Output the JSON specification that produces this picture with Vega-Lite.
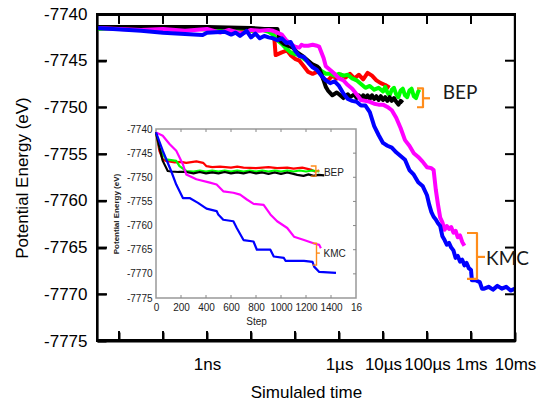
{
  "$schema": "https://vega.github.io/schema/vega-lite/v6.json",
  "width": 418,
  "height": 327,
  "autosize": "none",
  "padding": {"left": 97, "top": 14, "right": 28, "bottom": 60},
  "background": "white",
  "config": {"view": {"stroke": "black", "strokeWidth": 2}},
  "datasets": {
    "main": [
      {"series":"BEP-1","t":3.162e-12,"E":-7741.5},{"series":"BEP-1","t":1e-10,"E":-7741.5},{"series":"BEP-1","t":2.512e-10,"E":-7741.4},{"series":"BEP-1","t":1.122e-9,"E":-7741.4},{"series":"BEP-1","t":1.259e-9,"E":-7741.8},{"series":"BEP-1","t":1e-8,"E":-7741.8},{"series":"BEP-1","t":1.778e-8,"E":-7741.7},{"series":"BEP-1","t":3.162e-8,"E":-7741.9},{"series":"BEP-1","t":3.39e-8,"E":-7742.6},{"series":"BEP-1","t":3.63e-8,"E":-7744.4},{"series":"BEP-1","t":5.012e-8,"E":-7744.1},{"series":"BEP-1","t":6.607e-8,"E":-7743.9},{"series":"BEP-1","t":7.943e-8,"E":-7744.4},{"series":"BEP-1","t":1e-7,"E":-7744.8},{"series":"BEP-1","t":1.259e-7,"E":-7745.0},{"series":"BEP-1","t":1.585e-7,"E":-7745.6},{"series":"BEP-1","t":1.995e-7,"E":-7746.2},{"series":"BEP-1","t":2.512e-7,"E":-7746.4},{"series":"BEP-1","t":3.162e-7,"E":-7746.2},{"series":"BEP-1","t":3.802e-7,"E":-7746.3},{"series":"BEP-1","t":4.467e-7,"E":-7747.0},{"series":"BEP-1","t":5.623e-7,"E":-7747.1},{"series":"BEP-1","t":7.079e-7,"E":-7746.6},{"series":"BEP-1","t":8.913e-7,"E":-7746.9},{"series":"BEP-1","t":1.122e-6,"E":-7746.5},{"series":"BEP-1","t":1.413e-6,"E":-7746.8},{"series":"BEP-1","t":1.778e-6,"E":-7746.4},{"series":"BEP-1","t":2.239e-6,"E":-7746.9},{"series":"BEP-1","t":2.818e-6,"E":-7746.5},{"series":"BEP-1","t":3.548e-6,"E":-7747.0},{"series":"BEP-1","t":4.467e-6,"E":-7746.3},{"series":"BEP-1","t":5.623e-6,"E":-7746.6},{"series":"BEP-1","t":7.079e-6,"E":-7747.1},{"series":"BEP-1","t":8.913e-6,"E":-7747.4},{"series":"BEP-1","t":1.122e-5,"E":-7747.6},{"series":"BEP-1","t":1.413e-5,"E":-7747.9},
      {"series":"BEP-2","t":3.162e-12,"E":-7741.6},{"series":"BEP-2","t":1e-10,"E":-7741.5},{"series":"BEP-2","t":2.512e-10,"E":-7741.4},{"series":"BEP-2","t":1e-9,"E":-7741.7},{"series":"BEP-2","t":3.162e-9,"E":-7741.8},{"series":"BEP-2","t":6.31e-9,"E":-7741.5},{"series":"BEP-2","t":1e-8,"E":-7741.8},{"series":"BEP-2","t":1.585e-8,"E":-7741.6},{"series":"BEP-2","t":2.512e-8,"E":-7741.9},{"series":"BEP-2","t":3.162e-8,"E":-7742.2},{"series":"BEP-2","t":3.981e-8,"E":-7742.8},{"series":"BEP-2","t":5.012e-8,"E":-7743.2},{"series":"BEP-2","t":6.31e-8,"E":-7743.7},{"series":"BEP-2","t":7.943e-8,"E":-7744.1},{"series":"BEP-2","t":1e-7,"E":-7744.3},{"series":"BEP-2","t":1.259e-7,"E":-7744.4},{"series":"BEP-2","t":1.585e-7,"E":-7744.8},{"series":"BEP-2","t":1.995e-7,"E":-7745.1},{"series":"BEP-2","t":2.512e-7,"E":-7745.5},{"series":"BEP-2","t":3.162e-7,"E":-7745.7},{"series":"BEP-2","t":3.981e-7,"E":-7746.1},{"series":"BEP-2","t":5.012e-7,"E":-7746.4},{"series":"BEP-2","t":6.31e-7,"E":-7746.4},{"series":"BEP-2","t":7.943e-7,"E":-7746.6},{"series":"BEP-2","t":1e-6,"E":-7746.4},{"series":"BEP-2","t":1.259e-6,"E":-7746.6},{"series":"BEP-2","t":1.585e-6,"E":-7746.5},{"series":"BEP-2","t":1.995e-6,"E":-7746.9},{"series":"BEP-2","t":2.512e-6,"E":-7747.1},{"series":"BEP-2","t":3.162e-6,"E":-7747.5},{"series":"BEP-2","t":3.981e-6,"E":-7747.9},{"series":"BEP-2","t":5.012e-6,"E":-7747.7},{"series":"BEP-2","t":6.31e-6,"E":-7748.1},{"series":"BEP-2","t":7.943e-6,"E":-7747.9},{"series":"BEP-2","t":1e-5,"E":-7748.3},{"series":"BEP-2","t":1.122e-5,"E":-7747.8},{"series":"BEP-2","t":1.259e-5,"E":-7748.4},{"series":"BEP-2","t":1.413e-5,"E":-7748.7},{"series":"BEP-2","t":1.585e-5,"E":-7748.1},{"series":"BEP-2","t":1.778e-5,"E":-7747.9},{"series":"BEP-2","t":1.995e-5,"E":-7748.6},{"series":"BEP-2","t":2.239e-5,"E":-7748.9},{"series":"BEP-2","t":2.512e-5,"E":-7748.2},{"series":"BEP-2","t":2.818e-5,"E":-7748.0},{"series":"BEP-2","t":3.162e-5,"E":-7748.7},{"series":"BEP-2","t":3.548e-5,"E":-7748.9},{"series":"BEP-2","t":3.981e-5,"E":-7748.2},{"series":"BEP-2","t":4.467e-5,"E":-7748.0},{"series":"BEP-2","t":5.012e-5,"E":-7748.8},{"series":"BEP-2","t":5.623e-5,"E":-7749.0},{"series":"BEP-2","t":6.31e-5,"E":-7748.3},{"series":"BEP-2","t":6.76e-5,"E":-7748.1},
      {"series":"BEP-3","t":3.162e-12,"E":-7741.4},{"series":"BEP-3","t":1e-10,"E":-7741.4},{"series":"BEP-3","t":1e-9,"E":-7741.4},{"series":"BEP-3","t":1e-8,"E":-7741.5},{"series":"BEP-3","t":1.995e-8,"E":-7741.6},{"series":"BEP-3","t":3.981e-8,"E":-7741.6},{"series":"BEP-3","t":4.467e-8,"E":-7742.8},{"series":"BEP-3","t":5.623e-8,"E":-7743.2},{"series":"BEP-3","t":8.913e-8,"E":-7743.6},{"series":"BEP-3","t":1.122e-7,"E":-7744.1},{"series":"BEP-3","t":1.585e-7,"E":-7744.6},{"series":"BEP-3","t":1.995e-7,"E":-7745.0},{"series":"BEP-3","t":2.512e-7,"E":-7745.4},{"series":"BEP-3","t":3.162e-7,"E":-7745.6},{"series":"BEP-3","t":3.548e-7,"E":-7745.8},{"series":"BEP-3","t":4.467e-7,"E":-7747.1},{"series":"BEP-3","t":5.012e-7,"E":-7747.8},{"series":"BEP-3","t":5.623e-7,"E":-7748.2},{"series":"BEP-3","t":7.079e-7,"E":-7748.7},{"series":"BEP-3","t":8.913e-7,"E":-7748.4},{"series":"BEP-3","t":1e-6,"E":-7748.6},{"series":"BEP-3","t":1.259e-6,"E":-7749.0},{"series":"BEP-3","t":1.585e-6,"E":-7748.6},{"series":"BEP-3","t":1.778e-6,"E":-7748.9},{"series":"BEP-3","t":2.239e-6,"E":-7748.6},{"series":"BEP-3","t":2.512e-6,"E":-7749.0},{"series":"BEP-3","t":2.818e-6,"E":-7748.7},{"series":"BEP-3","t":3.162e-6,"E":-7749.1},{"series":"BEP-3","t":3.548e-6,"E":-7748.7},{"series":"BEP-3","t":3.981e-6,"E":-7749.0},{"series":"BEP-3","t":4.467e-6,"E":-7748.7},{"series":"BEP-3","t":5.012e-6,"E":-7749.1},{"series":"BEP-3","t":5.623e-6,"E":-7748.7},{"series":"BEP-3","t":6.31e-6,"E":-7749.1},{"series":"BEP-3","t":7.079e-6,"E":-7748.8},{"series":"BEP-3","t":7.943e-6,"E":-7749.2},{"series":"BEP-3","t":8.913e-6,"E":-7748.8},{"series":"BEP-3","t":1e-5,"E":-7749.2},{"series":"BEP-3","t":1.122e-5,"E":-7748.9},{"series":"BEP-3","t":1.259e-5,"E":-7749.3},{"series":"BEP-3","t":1.413e-5,"E":-7748.9},{"series":"BEP-3","t":1.585e-5,"E":-7749.3},{"series":"BEP-3","t":1.778e-5,"E":-7749.0},{"series":"BEP-3","t":1.995e-5,"E":-7749.4},{"series":"BEP-3","t":2.239e-5,"E":-7749.7},{"series":"BEP-3","t":2.512e-5,"E":-7749.3},{"series":"BEP-3","t":2.818e-5,"E":-7749.5},
      {"series":"KMC-1","t":3.162e-12,"E":-7741.5},{"series":"KMC-1","t":3.162e-11,"E":-7741.7},{"series":"KMC-1","t":1e-10,"E":-7741.6},{"series":"KMC-1","t":3.162e-10,"E":-7741.8},{"series":"KMC-1","t":1e-9,"E":-7741.6},{"series":"KMC-1","t":1.995e-9,"E":-7742.0},{"series":"KMC-1","t":3.162e-9,"E":-7741.7},{"series":"KMC-1","t":6.31e-9,"E":-7742.1},{"series":"KMC-1","t":1e-8,"E":-7741.7},{"series":"KMC-1","t":1.585e-8,"E":-7741.8},{"series":"KMC-1","t":2.512e-8,"E":-7741.7},{"series":"KMC-1","t":3.162e-8,"E":-7741.8},{"series":"KMC-1","t":3.981e-8,"E":-7742.0},{"series":"KMC-1","t":5.012e-8,"E":-7742.2},{"series":"KMC-1","t":6.31e-8,"E":-7742.8},{"series":"KMC-1","t":7.943e-8,"E":-7743.2},{"series":"KMC-1","t":1e-7,"E":-7743.5},{"series":"KMC-1","t":1.259e-7,"E":-7743.6},{"series":"KMC-1","t":1.413e-7,"E":-7743.3},{"series":"KMC-1","t":1.585e-7,"E":-7743.4},{"series":"KMC-1","t":1.995e-7,"E":-7743.4},{"series":"KMC-1","t":2.512e-7,"E":-7743.3},{"series":"KMC-1","t":3.162e-7,"E":-7743.4},{"series":"KMC-1","t":3.548e-7,"E":-7743.5},{"series":"KMC-1","t":4.467e-7,"E":-7744.7},{"series":"KMC-1","t":5.012e-7,"E":-7745.6},{"series":"KMC-1","t":6.31e-7,"E":-7746.0},{"series":"KMC-1","t":7.943e-7,"E":-7746.4},{"series":"KMC-1","t":1e-6,"E":-7746.9},{"series":"KMC-1","t":1.259e-6,"E":-7747.1},{"series":"KMC-1","t":1.585e-6,"E":-7747.6},{"series":"KMC-1","t":1.995e-6,"E":-7748.0},{"series":"KMC-1","t":2.512e-6,"E":-7748.6},{"series":"KMC-1","t":3.162e-6,"E":-7749.2},{"series":"KMC-1","t":3.981e-6,"E":-7749.3},{"series":"KMC-1","t":5.012e-6,"E":-7749.4},{"series":"KMC-1","t":6.31e-6,"E":-7749.6},{"series":"KMC-1","t":7.943e-6,"E":-7749.7},{"series":"KMC-1","t":1e-5,"E":-7749.7},{"series":"KMC-1","t":1.259e-5,"E":-7749.95},{"series":"KMC-1","t":1.585e-5,"E":-7750.3},{"series":"KMC-1","t":1.995e-5,"E":-7751.1},{"series":"KMC-1","t":2.512e-5,"E":-7752.2},{"series":"KMC-1","t":3.162e-5,"E":-7753.5},{"series":"KMC-1","t":3.981e-5,"E":-7754.1},{"series":"KMC-1","t":5.012e-5,"E":-7754.9},{"series":"KMC-1","t":6.31e-5,"E":-7755.3},{"series":"KMC-1","t":7.943e-5,"E":-7755.8},{"series":"KMC-1","t":1e-4,"E":-7756.4},{"series":"KMC-1","t":1.259e-4,"E":-7756.5},{"series":"KMC-1","t":1.413e-4,"E":-7756.7},{"series":"KMC-1","t":1.585e-4,"E":-7758.8},{"series":"KMC-1","t":1.778e-4,"E":-7760.4},{"series":"KMC-1","t":1.995e-4,"E":-7761.8},{"series":"KMC-1","t":2.239e-4,"E":-7762.3},{"series":"KMC-1","t":2.512e-4,"E":-7763.1},{"series":"KMC-1","t":2.818e-4,"E":-7762.7},{"series":"KMC-1","t":3.162e-4,"E":-7763.0},{"series":"KMC-1","t":3.548e-4,"E":-7762.8},{"series":"KMC-1","t":3.981e-4,"E":-7763.4},{"series":"KMC-1","t":4.467e-4,"E":-7763.2},{"series":"KMC-1","t":5.012e-4,"E":-7763.9},{"series":"KMC-1","t":5.623e-4,"E":-7763.7},{"series":"KMC-1","t":6.31e-4,"E":-7764.4},{"series":"KMC-1","t":7.079e-4,"E":-7764.8},
      {"series":"KMC-2","t":3.162e-12,"E":-7741.5},{"series":"KMC-2","t":3.162e-11,"E":-7741.8},{"series":"KMC-2","t":1e-10,"E":-7742.0},{"series":"KMC-2","t":5.012e-10,"E":-7742.2},{"series":"KMC-2","t":7.943e-10,"E":-7742.25},{"series":"KMC-2","t":1e-9,"E":-7742.0},{"series":"KMC-2","t":2.512e-9,"E":-7741.9},{"series":"KMC-2","t":3.548e-9,"E":-7742.2},{"series":"KMC-2","t":4.467e-9,"E":-7742.0},{"series":"KMC-2","t":5.623e-9,"E":-7742.35},{"series":"KMC-2","t":7.943e-9,"E":-7741.8},{"series":"KMC-2","t":1e-8,"E":-7742.5},{"series":"KMC-2","t":1.259e-8,"E":-7742.1},{"series":"KMC-2","t":1.585e-8,"E":-7742.6},{"series":"KMC-2","t":1.995e-8,"E":-7742.35},{"series":"KMC-2","t":2.512e-8,"E":-7742.5},{"series":"KMC-2","t":3.162e-8,"E":-7742.6},{"series":"KMC-2","t":3.981e-8,"E":-7742.8},{"series":"KMC-2","t":5.012e-8,"E":-7742.6},{"series":"KMC-2","t":6.31e-8,"E":-7743.1},{"series":"KMC-2","t":7.943e-8,"E":-7743.0},{"series":"KMC-2","t":1e-7,"E":-7743.9},{"series":"KMC-2","t":1.259e-7,"E":-7744.5},{"series":"KMC-2","t":1.585e-7,"E":-7744.6},{"series":"KMC-2","t":1.995e-7,"E":-7745.2},{"series":"KMC-2","t":2.512e-7,"E":-7745.7},{"series":"KMC-2","t":3.162e-7,"E":-7746.0},{"series":"KMC-2","t":3.981e-7,"E":-7746.6},{"series":"KMC-2","t":5.012e-7,"E":-7747.1},{"series":"KMC-2","t":6.31e-7,"E":-7747.4},{"series":"KMC-2","t":7.943e-7,"E":-7747.2},{"series":"KMC-2","t":1e-6,"E":-7747.7},{"series":"KMC-2","t":1.259e-6,"E":-7748.5},{"series":"KMC-2","t":1.585e-6,"E":-7749.1},{"series":"KMC-2","t":1.995e-6,"E":-7749.3},{"series":"KMC-2","t":2.512e-6,"E":-7749.4},{"series":"KMC-2","t":3.162e-6,"E":-7749.8},{"series":"KMC-2","t":3.981e-6,"E":-7749.8},{"series":"KMC-2","t":5.012e-6,"E":-7750.5},{"series":"KMC-2","t":6.31e-6,"E":-7752.0},{"series":"KMC-2","t":7.943e-6,"E":-7752.95},{"series":"KMC-2","t":1e-5,"E":-7753.8},{"series":"KMC-2","t":1.259e-5,"E":-7754.1},{"series":"KMC-2","t":1.585e-5,"E":-7754.3},{"series":"KMC-2","t":1.995e-5,"E":-7754.8},{"series":"KMC-2","t":2.512e-5,"E":-7755.2},{"series":"KMC-2","t":3.162e-5,"E":-7755.6},{"series":"KMC-2","t":3.981e-5,"E":-7756.7},{"series":"KMC-2","t":5.012e-5,"E":-7757.2},{"series":"KMC-2","t":6.31e-5,"E":-7758.0},{"series":"KMC-2","t":7.943e-5,"E":-7758.4},{"series":"KMC-2","t":1e-4,"E":-7759.4},{"series":"KMC-2","t":1.122e-4,"E":-7760.4},{"series":"KMC-2","t":1.259e-4,"E":-7761.2},{"series":"KMC-2","t":1.413e-4,"E":-7761.7},{"series":"KMC-2","t":1.585e-4,"E":-7762.0},{"series":"KMC-2","t":1.778e-4,"E":-7762.4},{"series":"KMC-2","t":1.995e-4,"E":-7762.7},{"series":"KMC-2","t":2.239e-4,"E":-7763.8},{"series":"KMC-2","t":2.512e-4,"E":-7764.2},{"series":"KMC-2","t":2.818e-4,"E":-7764.7},{"series":"KMC-2","t":3.162e-4,"E":-7764.5},{"series":"KMC-2","t":3.548e-4,"E":-7765.0},{"series":"KMC-2","t":3.981e-4,"E":-7765.3},{"series":"KMC-2","t":4.467e-4,"E":-7766.1},{"series":"KMC-2","t":5.012e-4,"E":-7765.9},{"series":"KMC-2","t":5.623e-4,"E":-7766.5},{"series":"KMC-2","t":6.31e-4,"E":-7766.3},{"series":"KMC-2","t":7.079e-4,"E":-7766.9},{"series":"KMC-2","t":7.943e-4,"E":-7766.65},{"series":"KMC-2","t":8.913e-4,"E":-7767.2},{"series":"KMC-2","t":1e-3,"E":-7767.4},{"series":"KMC-2","t":1.047e-3,"E":-7768.5},{"series":"KMC-2","t":1.259e-3,"E":-7768.5},{"series":"KMC-2","t":1.585e-3,"E":-7768.7},{"series":"KMC-2","t":1.778e-3,"E":-7769.4},{"series":"KMC-2","t":1.995e-3,"E":-7769.4},{"series":"KMC-2","t":2.512e-3,"E":-7769.2},{"series":"KMC-2","t":3.162e-3,"E":-7769.5},{"series":"KMC-2","t":3.981e-3,"E":-7769.1},{"series":"KMC-2","t":5.012e-3,"E":-7769.4},{"series":"KMC-2","t":6.31e-3,"E":-7769.2},{"series":"KMC-2","t":7.943e-3,"E":-7769.6},{"series":"KMC-2","t":1e-2,"E":-7769.4}
    ],
    "mainGuides": [
      {"part":"frame","o":1,"t":3.2e-12,"E":-7774.9},{"part":"frame","o":2,"t":0.0099,"E":-7774.9},{"part":"frame","o":3,"t":0.0099,"E":-7740.1},{"part":"frame","o":4,"t":3.2e-12,"E":-7740.1},{"part":"frame","o":5,"t":3.2e-12,"E":-7774.9},
      {"part":"b11","o":1,"t":1e-11,"E":-7775},{"part":"b11","o":2,"t":1e-11,"E":-7774.04},
      {"part":"b10","o":1,"t":1e-10,"E":-7775},{"part":"b10","o":2,"t":1e-10,"E":-7774.04},
      {"part":"b9","o":1,"t":1e-9,"E":-7775},{"part":"b9","o":2,"t":1e-9,"E":-7774.04},
      {"part":"b8","o":1,"t":1e-8,"E":-7775},{"part":"b8","o":2,"t":1e-8,"E":-7774.04},
      {"part":"b7","o":1,"t":1e-7,"E":-7775},{"part":"b7","o":2,"t":1e-7,"E":-7774.04},
      {"part":"b6","o":1,"t":1e-6,"E":-7775},{"part":"b6","o":2,"t":1e-6,"E":-7774.04},
      {"part":"b5","o":1,"t":1e-5,"E":-7775},{"part":"b5","o":2,"t":1e-5,"E":-7774.04},
      {"part":"b4","o":1,"t":1e-4,"E":-7775},{"part":"b4","o":2,"t":1e-4,"E":-7774.04},
      {"part":"b3","o":1,"t":1e-3,"E":-7775},{"part":"b3","o":2,"t":1e-3,"E":-7774.04},
      {"part":"t11","o":1,"t":1e-11,"E":-7740},{"part":"t11","o":2,"t":1e-11,"E":-7740.96},
      {"part":"t10","o":1,"t":1e-10,"E":-7740},{"part":"t10","o":2,"t":1e-10,"E":-7740.96},
      {"part":"t9","o":1,"t":1e-9,"E":-7740},{"part":"t9","o":2,"t":1e-9,"E":-7740.96},
      {"part":"t8","o":1,"t":1e-8,"E":-7740},{"part":"t8","o":2,"t":1e-8,"E":-7740.96},
      {"part":"t7","o":1,"t":1e-7,"E":-7740},{"part":"t7","o":2,"t":1e-7,"E":-7740.96},
      {"part":"t6","o":1,"t":1e-6,"E":-7740},{"part":"t6","o":2,"t":1e-6,"E":-7740.96},
      {"part":"t5","o":1,"t":1e-5,"E":-7740},{"part":"t5","o":2,"t":1e-5,"E":-7740.96},
      {"part":"t4","o":1,"t":1e-4,"E":-7740},{"part":"t4","o":2,"t":1e-4,"E":-7740.96},
      {"part":"t3","o":1,"t":1e-3,"E":-7740},{"part":"t3","o":2,"t":1e-3,"E":-7740.96},
      {"part":"l70","o":1,"t":3.162e-12,"E":-7770},{"part":"l70","o":2,"t":5.06e-12,"E":-7770},
      {"part":"l65","o":1,"t":3.162e-12,"E":-7765},{"part":"l65","o":2,"t":5.06e-12,"E":-7765},
      {"part":"l60","o":1,"t":3.162e-12,"E":-7760},{"part":"l60","o":2,"t":5.06e-12,"E":-7760},
      {"part":"l55","o":1,"t":3.162e-12,"E":-7755},{"part":"l55","o":2,"t":5.06e-12,"E":-7755},
      {"part":"l50","o":1,"t":3.162e-12,"E":-7750},{"part":"l50","o":2,"t":5.06e-12,"E":-7750},
      {"part":"l45","o":1,"t":3.162e-12,"E":-7745},{"part":"l45","o":2,"t":5.06e-12,"E":-7745},
      {"part":"r70","o":1,"t":0.01,"E":-7770},{"part":"r70","o":2,"t":6.246e-3,"E":-7770},
      {"part":"r65","o":1,"t":0.01,"E":-7765},{"part":"r65","o":2,"t":6.246e-3,"E":-7765},
      {"part":"r60","o":1,"t":0.01,"E":-7760},{"part":"r60","o":2,"t":6.246e-3,"E":-7760},
      {"part":"r55","o":1,"t":0.01,"E":-7755},{"part":"r55","o":2,"t":6.246e-3,"E":-7755},
      {"part":"r50","o":1,"t":0.01,"E":-7750},{"part":"r50","o":2,"t":6.246e-3,"E":-7750},
      {"part":"r45","o":1,"t":0.01,"E":-7745},{"part":"r45","o":2,"t":6.246e-3,"E":-7745}
    ],
    "mainBracket": [
      {"seg":"BEP","o":1,"t":5.93e-5,"E":-7747.95},{"seg":"BEP","o":2,"t":8.11e-5,"E":-7747.95},{"seg":"BEP","o":3,"t":8.11e-5,"E":-7749.98},{"seg":"BEP","o":4,"t":5.93e-5,"E":-7749.98},
      {"seg":"BEP-tick","o":1,"t":8.11e-5,"E":-7749.02},{"seg":"BEP-tick","o":2,"t":1.17e-4,"E":-7749.02},
      {"seg":"KMC","o":1,"t":8.11e-4,"E":-7763.44},{"seg":"KMC","o":2,"t":1.368e-3,"E":-7763.44},{"seg":"KMC","o":3,"t":1.368e-3,"E":-7768.36},{"seg":"KMC","o":4,"t":8.11e-4,"E":-7768.36},
      {"seg":"KMC-tick","o":1,"t":1.368e-3,"E":-7766.0},{"seg":"KMC-tick","o":2,"t":2.08e-3,"E":-7766.0}
    ],
    "mainText": [
      {"label":"BEP","t":2.275e-4,"E":-7748.5},
      {"label":"KMC","t":2.2e-3,"E":-7766.2}
    ],
    "insetBox": [{"s0":0,"s1":1600,"e0":-7775,"e1":-7740}],
    "insetGuides": [
      {"part":"b200","o":1,"step":200,"E":-7775},{"part":"b200","o":2,"step":200,"E":-7774.38},
      {"part":"b400","o":1,"step":400,"E":-7775},{"part":"b400","o":2,"step":400,"E":-7774.38},
      {"part":"b600","o":1,"step":600,"E":-7775},{"part":"b600","o":2,"step":600,"E":-7774.38},
      {"part":"b800","o":1,"step":800,"E":-7775},{"part":"b800","o":2,"step":800,"E":-7774.38},
      {"part":"b1000","o":1,"step":1000,"E":-7775},{"part":"b1000","o":2,"step":1000,"E":-7774.38},
      {"part":"b1200","o":1,"step":1200,"E":-7775},{"part":"b1200","o":2,"step":1200,"E":-7774.38},
      {"part":"b1400","o":1,"step":1400,"E":-7775},{"part":"b1400","o":2,"step":1400,"E":-7774.38},
      {"part":"t200","o":1,"step":200,"E":-7740},{"part":"t200","o":2,"step":200,"E":-7740.62},
      {"part":"t400","o":1,"step":400,"E":-7740},{"part":"t400","o":2,"step":400,"E":-7740.62},
      {"part":"t600","o":1,"step":600,"E":-7740},{"part":"t600","o":2,"step":600,"E":-7740.62},
      {"part":"t800","o":1,"step":800,"E":-7740},{"part":"t800","o":2,"step":800,"E":-7740.62},
      {"part":"t1000","o":1,"step":1000,"E":-7740},{"part":"t1000","o":2,"step":1000,"E":-7740.62},
      {"part":"t1200","o":1,"step":1200,"E":-7740},{"part":"t1200","o":2,"step":1200,"E":-7740.62},
      {"part":"t1400","o":1,"step":1400,"E":-7740},{"part":"t1400","o":2,"step":1400,"E":-7740.62},
      {"part":"r70","o":1,"step":1600,"E":-7770},{"part":"r70","o":2,"step":1576,"E":-7770},
      {"part":"r65","o":1,"step":1600,"E":-7765},{"part":"r65","o":2,"step":1576,"E":-7765},
      {"part":"r60","o":1,"step":1600,"E":-7760},{"part":"r60","o":2,"step":1576,"E":-7760},
      {"part":"r55","o":1,"step":1600,"E":-7755},{"part":"r55","o":2,"step":1576,"E":-7755},
      {"part":"r50","o":1,"step":1600,"E":-7750},{"part":"r50","o":2,"step":1576,"E":-7750},
      {"part":"r45","o":1,"step":1600,"E":-7745},{"part":"r45","o":2,"step":1576,"E":-7745}
    ],
    "inset": [
      {"series":"BEP-1","step":0,"E":-7740.7},{"series":"BEP-1","step":27,"E":-7744.5},{"series":"BEP-1","step":54,"E":-7746.3},{"series":"BEP-1","step":81,"E":-7746.6},{"series":"BEP-1","step":150,"E":-7746.9},{"series":"BEP-1","step":200,"E":-7746.8},{"series":"BEP-1","step":242,"E":-7747.0},{"series":"BEP-1","step":269,"E":-7746.9},{"series":"BEP-1","step":323,"E":-7746.7},{"series":"BEP-1","step":377,"E":-7747.0},{"series":"BEP-1","step":404,"E":-7747.7},{"series":"BEP-1","step":450,"E":-7747.9},{"series":"BEP-1","step":512,"E":-7747.8},{"series":"BEP-1","step":600,"E":-7748.0},{"series":"BEP-1","step":650,"E":-7747.8},{"series":"BEP-1","step":700,"E":-7748.0},{"series":"BEP-1","step":800,"E":-7748.1},{"series":"BEP-1","step":900,"E":-7747.9},{"series":"BEP-1","step":969,"E":-7748.1},{"series":"BEP-1","step":1050,"E":-7748.0},{"series":"BEP-1","step":1100,"E":-7748.2},{"series":"BEP-1","step":1170,"E":-7748.0},{"series":"BEP-1","step":1238,"E":-7748.4},{"series":"BEP-1","step":1270,"E":-7748.8},{"series":"BEP-1","step":1306,"E":-7748.6},
      {"series":"BEP-2","step":0,"E":-7740.7},{"series":"BEP-2","step":27,"E":-7743.8},{"series":"BEP-2","step":54,"E":-7745.2},{"series":"BEP-2","step":81,"E":-7746.3},{"series":"BEP-2","step":162,"E":-7746.6},{"series":"BEP-2","step":188,"E":-7747.7},{"series":"BEP-2","step":242,"E":-7748.7},{"series":"BEP-2","step":300,"E":-7748.8},{"series":"BEP-2","step":350,"E":-7748.6},{"series":"BEP-2","step":400,"E":-7748.8},{"series":"BEP-2","step":450,"E":-7748.6},{"series":"BEP-2","step":500,"E":-7748.8},{"series":"BEP-2","step":550,"E":-7748.6},{"series":"BEP-2","step":600,"E":-7748.8},{"series":"BEP-2","step":650,"E":-7748.6},{"series":"BEP-2","step":700,"E":-7748.8},{"series":"BEP-2","step":750,"E":-7748.6},{"series":"BEP-2","step":800,"E":-7748.8},{"series":"BEP-2","step":850,"E":-7748.6},{"series":"BEP-2","step":900,"E":-7748.8},{"series":"BEP-2","step":950,"E":-7748.6},{"series":"BEP-2","step":1000,"E":-7748.8},{"series":"BEP-2","step":1050,"E":-7748.6},{"series":"BEP-2","step":1100,"E":-7748.8},{"series":"BEP-2","step":1150,"E":-7748.6},{"series":"BEP-2","step":1200,"E":-7748.8},{"series":"BEP-2","step":1250,"E":-7748.6},{"series":"BEP-2","step":1306,"E":-7748.8},
      {"series":"BEP-3","step":0,"E":-7740.7},{"series":"BEP-3","step":27,"E":-7743.8},{"series":"BEP-3","step":54,"E":-7746.6},{"series":"BEP-3","step":94,"E":-7748.7},{"series":"BEP-3","step":121,"E":-7748.8},{"series":"BEP-3","step":180,"E":-7748.9},{"series":"BEP-3","step":242,"E":-7748.9},{"series":"BEP-3","step":300,"E":-7749.2},{"series":"BEP-3","step":350,"E":-7748.9},{"series":"BEP-3","step":400,"E":-7749.2},{"series":"BEP-3","step":450,"E":-7749.0},{"series":"BEP-3","step":500,"E":-7749.2},{"series":"BEP-3","step":550,"E":-7748.9},{"series":"BEP-3","step":600,"E":-7749.2},{"series":"BEP-3","step":650,"E":-7749.0},{"series":"BEP-3","step":700,"E":-7749.2},{"series":"BEP-3","step":750,"E":-7748.9},{"series":"BEP-3","step":800,"E":-7749.2},{"series":"BEP-3","step":850,"E":-7749.0},{"series":"BEP-3","step":900,"E":-7749.3},{"series":"BEP-3","step":950,"E":-7749.0},{"series":"BEP-3","step":1000,"E":-7749.3},{"series":"BEP-3","step":1050,"E":-7749.0},{"series":"BEP-3","step":1100,"E":-7749.3},{"series":"BEP-3","step":1130,"E":-7749.5},{"series":"BEP-3","step":1180,"E":-7749.7},{"series":"BEP-3","step":1220,"E":-7749.4},{"series":"BEP-3","step":1260,"E":-7749.7},{"series":"BEP-3","step":1300,"E":-7749.5},{"series":"BEP-3","step":1346,"E":-7749.6},
      {"series":"KMC-1","step":0,"E":-7740.7},{"series":"KMC-1","step":54,"E":-7741.4},{"series":"KMC-1","step":108,"E":-7743.1},{"series":"KMC-1","step":162,"E":-7744.5},{"series":"KMC-1","step":215,"E":-7747.3},{"series":"KMC-1","step":242,"E":-7749.4},{"series":"KMC-1","step":323,"E":-7750.4},{"series":"KMC-1","step":431,"E":-7751.1},{"series":"KMC-1","step":485,"E":-7751.5},{"series":"KMC-1","step":538,"E":-7752.9},{"series":"KMC-1","step":619,"E":-7753.2},{"series":"KMC-1","step":673,"E":-7753.6},{"series":"KMC-1","step":727,"E":-7754.6},{"series":"KMC-1","step":781,"E":-7755.5},{"series":"KMC-1","step":861,"E":-7755.7},{"series":"KMC-1","step":915,"E":-7757.7},{"series":"KMC-1","step":969,"E":-7759.1},{"series":"KMC-1","step":1050,"E":-7760.5},{"series":"KMC-1","step":1104,"E":-7762.3},{"series":"KMC-1","step":1184,"E":-7763.0},{"series":"KMC-1","step":1265,"E":-7763.7},{"series":"KMC-1","step":1306,"E":-7764.0},{"series":"KMC-1","step":1319,"E":-7764.7},
      {"series":"KMC-2","step":0,"E":-7740.7},{"series":"KMC-2","step":54,"E":-7744.5},{"series":"KMC-2","step":121,"E":-7748.7},{"series":"KMC-2","step":162,"E":-7751.5},{"series":"KMC-2","step":215,"E":-7754.3},{"series":"KMC-2","step":269,"E":-7754.3},{"series":"KMC-2","step":336,"E":-7755.3},{"series":"KMC-2","step":404,"E":-7756.5},{"series":"KMC-2","step":485,"E":-7757.0},{"series":"KMC-2","step":498,"E":-7757.7},{"series":"KMC-2","step":538,"E":-7758.8},{"series":"KMC-2","step":592,"E":-7759.0},{"series":"KMC-2","step":619,"E":-7759.1},{"series":"KMC-2","step":646,"E":-7760.5},{"series":"KMC-2","step":700,"E":-7763.0},{"series":"KMC-2","step":780,"E":-7763.3},{"series":"KMC-2","step":807,"E":-7765.0},{"series":"KMC-2","step":915,"E":-7765.0},{"series":"KMC-2","step":942,"E":-7766.4},{"series":"KMC-2","step":1023,"E":-7766.7},{"series":"KMC-2","step":1036,"E":-7767.3},{"series":"KMC-2","step":1184,"E":-7767.3},{"series":"KMC-2","step":1252,"E":-7767.5},{"series":"KMC-2","step":1265,"E":-7768.5},{"series":"KMC-2","step":1306,"E":-7769.6},{"series":"KMC-2","step":1440,"E":-7769.8}
    ],
    "insetBracket": [
      {"seg":"BEP","o":1,"step":1238,"E":-7747.66},{"seg":"BEP","o":2,"step":1279,"E":-7747.66},{"seg":"BEP","o":3,"step":1279,"E":-7749.75},{"seg":"BEP","o":4,"step":1238,"E":-7749.75},
      {"seg":"BEP-tick","o":1,"step":1279,"E":-7748.7},{"seg":"BEP-tick","o":2,"step":1305,"E":-7748.7},
      {"seg":"KMC","o":1,"step":1252,"E":-7763.65},{"seg":"KMC","o":2,"step":1284,"E":-7763.65},{"seg":"KMC","o":3,"step":1284,"E":-7768.2},{"seg":"KMC","o":4,"step":1252,"E":-7768.2},
      {"seg":"KMC-tick","o":1,"step":1284,"E":-7765.7},{"seg":"KMC-tick","o":2,"step":1311,"E":-7765.7}
    ],
    "insetText": [
      {"label":"BEP","step":1343,"E":-7749.1},
      {"label":"KMC","step":1340,"E":-7765.8}
    ]
  },
  "layer": [
    {
      "data": {"name": "main"},
      "mark": {"type": "line", "strokeWidth": 4, "strokeJoin": "round"},
      "encoding": {
        "x": {"field": "t", "type": "quantitative",
          "scale": {"type": "log", "domain": [3.162e-12, 0.01], "nice": false},
          "axis": {"orient": "bottom", "values": [1e-11,1e-10,1e-9,1e-8,1e-7,1e-6,1e-5,1e-4,1e-3,1e-2],
            "labelExpr": "round(log(datum.value)/LN10) == -9 ? '1ns' : round(log(datum.value)/LN10) == -6 ? '1µs' : round(log(datum.value)/LN10) == -5 ? '10µs' : round(log(datum.value)/LN10) == -4 ? '100µs' : round(log(datum.value)/LN10) == -3 ? '1ms' : round(log(datum.value)/LN10) == -2 ? '10ms' : ''",
            "tickSize": -9, "tickWidth": 2, "tickColor": "black", "domainColor": "black", "domainWidth": 2,
            "labelFont": "Liberation Sans", "labelFontSize": 17, "labelColor": "#000", "labelPadding": 24,
            "labelOverlap": false, "labelFlush": false, "labelBound": false, "grid": false,
            "title": "Simulaled time", "titleFont": "Liberation Sans", "titleFontSize": 17, "titleFontWeight": "normal", "titleColor": "#000", "titlePadding": 12}},
        "y": {"field": "E", "type": "quantitative",
          "scale": {"domain": [-7775, -7740], "nice": false, "zero": false},
          "axis": {"orient": "left", "values": [-7775,-7770,-7765,-7760,-7755,-7750,-7745,-7740],
            "labelExpr": "'' + datum.value",
            "tickSize": -9, "tickWidth": 2, "tickColor": "black", "domainColor": "black", "domainWidth": 2,
            "labelFont": "Liberation Sans", "labelFontSize": 17, "labelColor": "#000", "labelPadding": 19,
            "labelOverlap": false, "labelFlush": false, "labelBound": false, "grid": false,
            "title": "Potential Energy (eV)", "titleFont": "Liberation Sans", "titleFontSize": 17, "titleFontWeight": "normal", "titleColor": "#000", "titlePadding": 12}},
        "color": {"field": "series", "type": "nominal",
          "scale": {"domain": ["BEP-1","BEP-2","BEP-3","KMC-1","KMC-2"], "range": ["#ff0000","#00ff00","#000000","#ff00ff","#0000ff"]},
          "legend": null}
      }
    },
    {
      "data": {"name": "mainGuides"},
      "mark": {"type": "line", "stroke": "black", "strokeWidth": 2, "strokeCap": "square"},
      "encoding": {
        "x": {"field": "t", "type": "quantitative", "scale": {"type": "log", "domain": [3.162e-12, 0.01], "nice": false}, "axis": null},
        "y": {"field": "E", "type": "quantitative", "scale": {"domain": [-7775, -7740], "nice": false, "zero": false}, "axis": null},
        "detail": {"field": "part", "type": "nominal"},
        "order": {"field": "o", "type": "quantitative"}
      }
    },
    {
      "data": {"name": "mainBracket"},
      "mark": {"type": "line", "stroke": "#ff8c1a", "strokeWidth": 2.2, "strokeJoin": "round"},
      "encoding": {
        "x": {"field": "t", "type": "quantitative", "scale": {"type": "log", "domain": [3.162e-12, 0.01], "nice": false}, "axis": null},
        "y": {"field": "E", "type": "quantitative", "scale": {"domain": [-7775, -7740], "nice": false, "zero": false}, "axis": null},
        "detail": {"field": "seg", "type": "nominal"},
        "order": {"field": "o", "type": "quantitative"}
      }
    },
    {
      "data": {"name": "mainText"},
      "mark": {"type": "text", "align": "left", "baseline": "middle", "font": "Lato", "fontSize": 19, "fill": "#1a1a1a"},
      "encoding": {
        "x": {"field": "t", "type": "quantitative", "scale": {"type": "log", "domain": [3.162e-12, 0.01], "nice": false}, "axis": null},
        "y": {"field": "E", "type": "quantitative", "scale": {"domain": [-7775, -7740], "nice": false, "zero": false}, "axis": null},
        "text": {"field": "label"}
      }
    },
    {
      "data": {"name": "insetBox"},
      "mark": {"type": "rect", "fill": "white", "stroke": "#999999", "strokeWidth": 1.5},
      "encoding": {
        "x": {"field": "s0", "type": "quantitative",
          "scale": {"domain": [0, 1600], "range": [59, 259], "nice": false, "zero": false},
          "axis": {"orient": "bottom", "offset": -43, "zindex": 1, "values": [0,200,400,600,800,1000,1200,1400,1600],
            "labelExpr": "datum.value == 1600 ? '16' : '' + datum.value",
            "ticks": false, "tickSize": 0, "domain": false,
            "labelFont": "Liberation Sans", "labelFontSize": 10, "labelColor": "#222", "labelPadding": 4,
            "labelOverlap": false, "labelFlush": false, "labelBound": false, "grid": false,
            "title": "Step", "titleFont": "Liberation Sans", "titleFontSize": 10, "titleFontWeight": "normal", "titleColor": "#222", "titlePadding": 4}},
        "x2": {"field": "s1"},
        "y": {"field": "e0", "type": "quantitative",
          "scale": {"domain": [-7775, -7740], "range": [284, 115], "nice": false, "zero": false},
          "axis": {"orient": "left", "offset": -59, "zindex": 1, "values": [-7775,-7770,-7765,-7760,-7755,-7750,-7745,-7740],
            "labelExpr": "'' + datum.value",
            "ticks": false, "tickSize": 0, "domain": false,
            "labelFont": "Liberation Sans", "labelFontSize": 10, "labelColor": "#222", "labelPadding": 4,
            "labelOverlap": false, "labelFlush": false, "labelBound": false, "grid": false,
            "title": "Potential   Energy (eV)", "titleFont": "Liberation Sans", "titleFontSize": 8, "titleFontWeight": "bold", "titleColor": "#222", "titlePadding": 6}},
        "y2": {"field": "e1"}
      }
    },
    {
      "data": {"name": "insetGuides"},
      "mark": {"type": "line", "stroke": "#888888", "strokeWidth": 1},
      "encoding": {
        "x": {"field": "step", "type": "quantitative", "scale": {"domain": [0, 1600], "range": [59, 259], "nice": false, "zero": false}, "axis": null},
        "y": {"field": "E", "type": "quantitative", "scale": {"domain": [-7775, -7740], "range": [284, 115], "nice": false, "zero": false}, "axis": null},
        "detail": {"field": "part", "type": "nominal"},
        "order": {"field": "o", "type": "quantitative"}
      }
    },
    {
      "data": {"name": "inset"},
      "mark": {"type": "line", "strokeWidth": 2.2, "strokeJoin": "round"},
      "encoding": {
        "x": {"field": "step", "type": "quantitative", "scale": {"domain": [0, 1600], "range": [59, 259], "nice": false, "zero": false}, "axis": null},
        "y": {"field": "E", "type": "quantitative", "scale": {"domain": [-7775, -7740], "range": [284, 115], "nice": false, "zero": false}, "axis": null},
        "color": {"field": "series", "type": "nominal",
          "scale": {"domain": ["BEP-1","BEP-2","BEP-3","KMC-1","KMC-2"], "range": ["#ff0000","#00ff00","#000000","#ff00ff","#0000ff"]},
          "legend": null}
      }
    },
    {
      "data": {"name": "insetBracket"},
      "mark": {"type": "line", "stroke": "#ff8c1a", "strokeWidth": 1.4},
      "encoding": {
        "x": {"field": "step", "type": "quantitative", "scale": {"domain": [0, 1600], "range": [59, 259], "nice": false, "zero": false}, "axis": null},
        "y": {"field": "E", "type": "quantitative", "scale": {"domain": [-7775, -7740], "range": [284, 115], "nice": false, "zero": false}, "axis": null},
        "detail": {"field": "seg", "type": "nominal"},
        "order": {"field": "o", "type": "quantitative"}
      }
    },
    {
      "data": {"name": "insetText"},
      "mark": {"type": "text", "align": "left", "baseline": "middle", "font": "Liberation Sans", "fontSize": 10, "fill": "#222"},
      "encoding": {
        "x": {"field": "step", "type": "quantitative", "scale": {"domain": [0, 1600], "range": [59, 259], "nice": false, "zero": false}, "axis": null},
        "y": {"field": "E", "type": "quantitative", "scale": {"domain": [-7775, -7740], "range": [284, 115], "nice": false, "zero": false}, "axis": null},
        "text": {"field": "label"}
      }
    }
  ],
  "resolve": {"scale": {"x": "independent", "y": "independent", "color": "independent"}}
}
